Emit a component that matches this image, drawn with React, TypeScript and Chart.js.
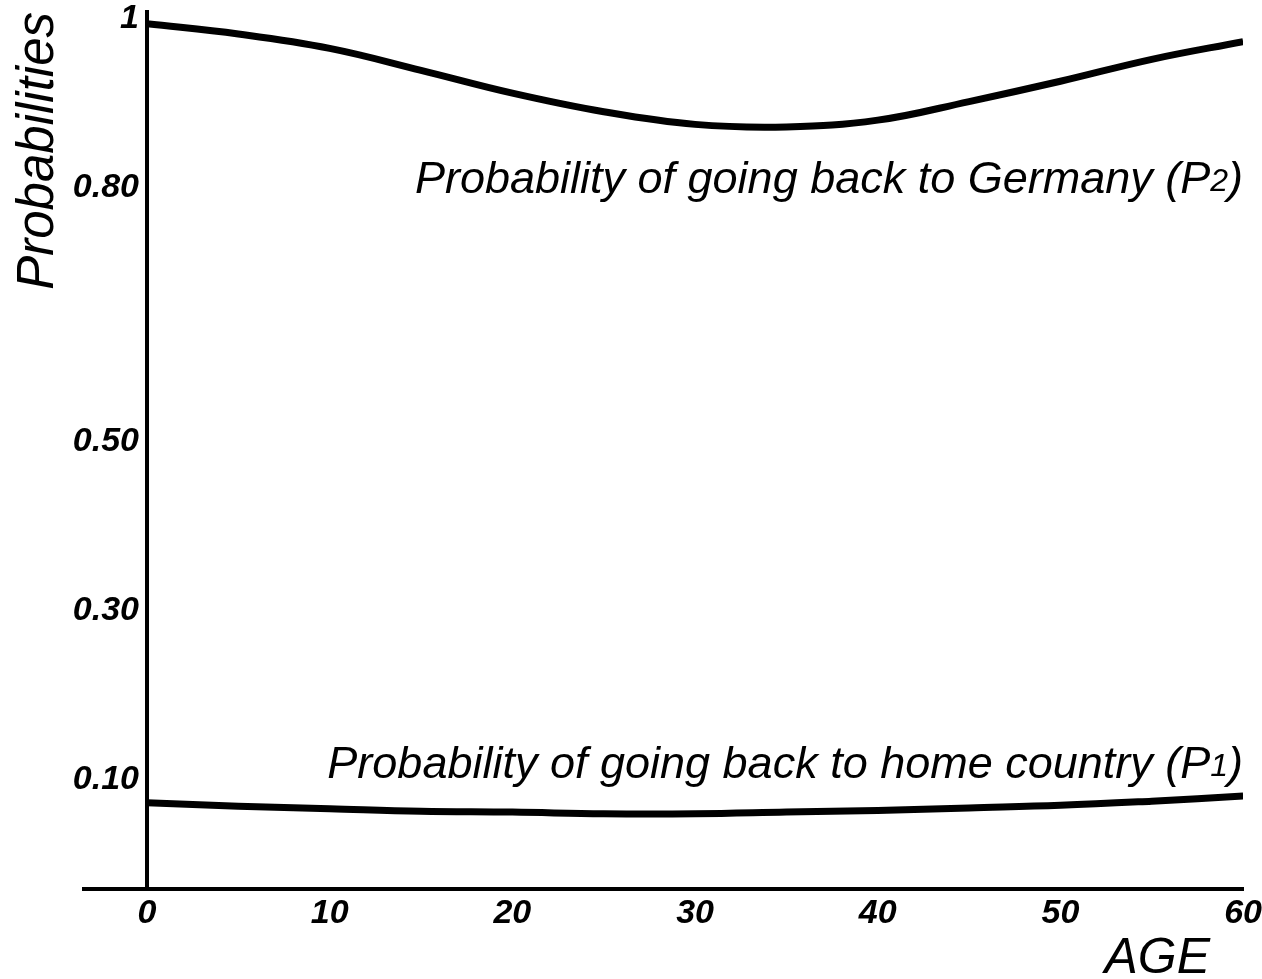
import React, { useEffect, useRef } from 'react';
import { Chart, registerables } from 'chart.js';

Chart.register(...registerables);

// ---- data ----
const ages = [0, 5, 10, 15, 20, 25, 30, 35, 40, 45, 50, 55, 60];
const pGermany = [0.994, 0.982, 0.965, 0.939, 0.912, 0.89, 0.875, 0.872, 0.88, 0.902, 0.926, 0.952, 0.973];
const pHome = [0.072, 0.068, 0.065, 0.062, 0.061, 0.059, 0.059, 0.061, 0.063, 0.066, 0.069, 0.074, 0.08];
const xTickValues = [0, 10, 20, 30, 40, 50, 60];
const yTickValues = [0.1, 0.3, 0.5, 0.8, 1];
const yTickLabels = ['0.10', '0.30', '0.50', '0.80', '1'];
const seriesNames = ['Probability of going back to Germany (P', 'Probability of going back to home country (P'];
const seriesSubscripts = ['2', '1'];
const yTitle = 'Probabilities';
const xTitle = 'AGE';

const FAMILY = "'Liberation Sans', Arial, Helvetica, sans-serif";

const annotationPlugin = {
  id: 'annotations',
  afterDraw(chart: any) {
    const { ctx, chartArea, scales } = chart;
    const y = scales.y;
    ctx.save();
    // extension of the x-axis line to the left of the y axis
    ctx.strokeStyle = '#000';
    ctx.lineWidth = 4;
    ctx.beginPath();
    ctx.moveTo(chartArea.left - 65, chartArea.bottom);
    ctx.lineTo(chartArea.left, chartArea.bottom);
    ctx.stroke();

    // series labels (right aligned, with subscript)
    const anchors = [0.8, 0.1];
    const offsets = [5, -1];
    ctx.fillStyle = '#000';
    ctx.textAlign = 'right';
    ctx.textBaseline = 'alphabetic';
    const mainFont = `italic 45px ${FAMILY}`;
    const subFont = `italic 32px ${FAMILY}`;
    seriesNames.forEach((name, i) => {
      const baseline = y.getPixelForValue(anchors[i]) + offsets[i];
      let x = chartArea.right;
      ctx.font = mainFont;
      ctx.fillText(')', x, baseline);
      x -= ctx.measureText(')').width;
      ctx.font = subFont;
      ctx.fillText(seriesSubscripts[i], x, baseline - 2);
      x -= ctx.measureText(seriesSubscripts[i]).width;
      ctx.font = mainFont;
      ctx.fillText(name, x, baseline);
    });

    // x-axis title
    ctx.font = `italic 50px ${FAMILY}`;
    ctx.fillText(xTitle, chartArea.right - 33, chart.height - 6);
    ctx.restore();
  },
};

export default function App() {
  const canvasRef = useRef<HTMLCanvasElement | null>(null);

  useEffect(() => {
    document.body.style.margin = '0';
    const canvas = canvasRef.current;
    if (!canvas) return;
    const chart = new Chart(canvas, {
      type: 'line',
      data: {
        datasets: [
          {
            label: seriesNames[0] + seriesSubscripts[0] + ')',
            data: ages.map((a, i) => ({ x: a, y: pGermany[i] })),
            borderColor: '#000',
            borderWidth: 7,
            tension: 0.4,
            pointRadius: 0,
            fill: false,
          },
          {
            label: seriesNames[1] + seriesSubscripts[1] + ')',
            data: ages.map((a, i) => ({ x: a, y: pHome[i] })),
            borderColor: '#000',
            borderWidth: 7,
            tension: 0.4,
            pointRadius: 0,
            fill: false,
          },
        ],
      },
      options: {
        animation: false,
        responsive: false,
        events: [],
        layout: { padding: { top: 12, right: 17, bottom: 0, left: 0 } },
        plugins: {
          legend: { display: false },
          tooltip: { enabled: false },
        },
        scales: {
          x: {
            type: 'linear',
            min: 0,
            max: 60,
            afterBuildTicks: (axis: any) => {
              axis.ticks = xTickValues.map((v) => ({ value: v }));
            },
            afterFit: (axis: any) => {
              axis.height = 90;
            },
            grid: {
              display: true,
              drawOnChartArea: false,
              drawTicks: true,
              tickLength: 4,
              color: 'rgba(0,0,0,0)',
              tickColor: 'rgba(0,0,0,0)',
            },
            border: { display: true, color: '#000', width: 4 },
            ticks: {
              color: '#000',
              font: { family: FAMILY, size: 34, style: 'italic', weight: 'bold', lineHeight: 1.2 },
              padding: 0,
              maxRotation: 0,
              autoSkip: false,
              callback: (v: any) => String(v),
            },
          },
          y: {
            type: 'linear',
            min: -0.03,
            max: 1.008,
            afterBuildTicks: (axis: any) => {
              axis.ticks = yTickValues.map((v) => ({ value: v }));
            },
            afterFit: (axis: any) => {
              axis.width = 147;
            },
            grid: {
              display: true,
              drawOnChartArea: false,
              drawTicks: true,
              tickLength: 8,
              color: 'rgba(0,0,0,0)',
              tickColor: 'rgba(0,0,0,0)',
            },
            border: { display: true, color: '#000', width: 4 },
            ticks: {
              color: '#000',
              font: { family: FAMILY, size: 34, style: 'italic', weight: 'bold', lineHeight: 0.7 },
              padding: 0,
              autoSkip: false,
              callback: (v: any) => {
                const i = yTickValues.indexOf(Number(v));
                return i >= 0 ? yTickLabels[i] : '';
              },
            },
            title: {
              display: true,
              text: yTitle,
              align: 'end',
              color: '#000',
              font: { family: FAMILY, size: 51, style: 'italic', lineHeight: 1 },
              padding: { top: 13, bottom: 0 },
            },
          },
        },
      },
      plugins: [annotationPlugin],
    } as any);
    return () => chart.destroy();
  }, []);

  return (
    <div style={{ width: 1262, height: 979, background: '#fff' }}>
      <canvas ref={canvasRef} width={1262} height={979} style={{ display: 'block' }} />
    </div>
  );
}
